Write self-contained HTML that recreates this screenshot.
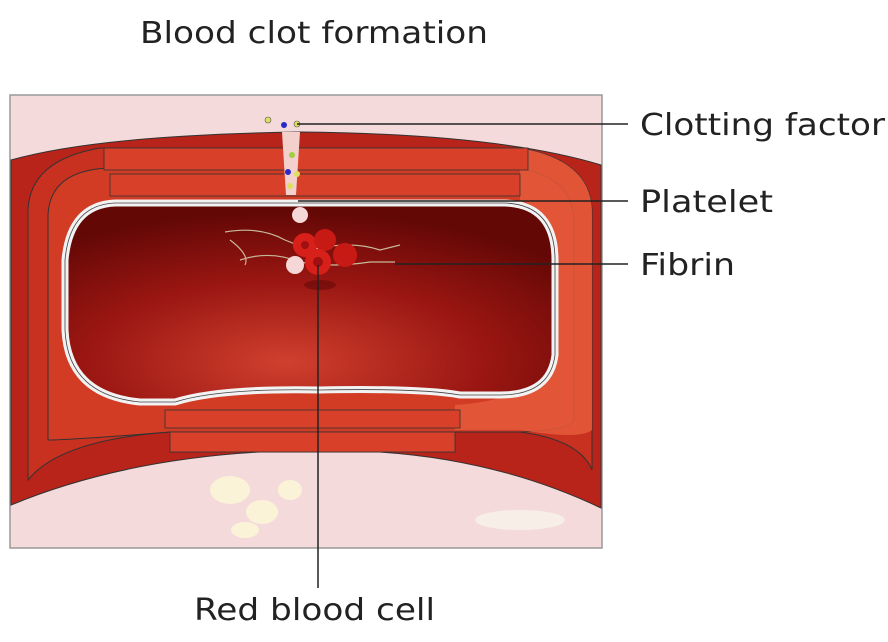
<!DOCTYPE html>
<html><head><style>
body{margin:0;background:#fff;width:888px;height:638px;overflow:hidden;font-family:"DejaVu Sans","Liberation Sans",sans-serif}
</style></head><body>
<svg width="888" height="638" viewBox="0 0 888 638" xmlns="http://www.w3.org/2000/svg">
<defs>
<radialGradient id="lum" cx="0.45" cy="0.8" r="0.75">
<stop offset="0" stop-color="#d0402e"/><stop offset="0.55" stop-color="#9a1612"/><stop offset="1" stop-color="#640806"/>
</radialGradient>
</defs>
<text x="140" y="43" font-size="30" fill="#222" font-family="DejaVu Sans, sans-serif" textLength="348" lengthAdjust="spacingAndGlyphs">Blood clot formation</text>
<rect x="10" y="95" width="592" height="453" fill="#f4dada" stroke="#999" stroke-width="1.5"/>
<path d="M11 160 Q100 135 300 132 Q500 134 601 165 L601 508 Q500 460 380 452 L260 452 Q120 460 11 505 Z" fill="#b8231a" stroke="#333" stroke-width="1"/>
<path d="M28 480 L28 210 Q30 160 100 148 L520 148 Q590 160 592 210 L592 470 Q580 440 520 432 L170 432 Q60 440 28 480 Z" fill="#c8301f" stroke="#333" stroke-width="1"/>
<path d="M48 440 L48 215 Q50 170 110 168 L515 168 Q572 175 574 220 L574 420 Q570 430 520 432 L170 432 Q70 440 48 440 Z" fill="#d23b24" stroke="#333" stroke-width="1"/>
<path d="M520 148 Q590 160 592 210 L592 430 Q580 440 520 430 L455 430 L455 405 Q540 400 553 350 L553 250 Q550 210 520 200 Z" fill="#e55a3a" opacity="0.85"/>
<rect x="104" y="148" width="424" height="22" fill="#d8402a" stroke="#333" stroke-width="0.8"/>
<rect x="110" y="174" width="410" height="22" fill="#d8402a" stroke="#333" stroke-width="0.8"/>
<rect x="165" y="410" width="295" height="18" fill="#d8402a" stroke="#333" stroke-width="0.8"/>
<rect x="170" y="432" width="285" height="20" fill="#d8402a" stroke="#333" stroke-width="0.8"/>
<path d="M115 203 L505 203 Q555 205 555 260 L555 355 Q550 395 500 395 L460 395 Q420 388 320 390 Q220 388 175 402 L140 402 Q68 395 65 330 L65 260 Q70 205 115 203 Z" fill="url(#lum)" stroke="#f2f2f2" stroke-width="7"/>
<path d="M115 203 L505 203 Q555 205 555 260 L555 355 Q550 395 500 395 L460 395 Q420 388 320 390 Q220 388 175 402 L140 402 Q68 395 65 330 L65 260 Q70 205 115 203 Z" fill="none" stroke="#444" stroke-width="0.8"/>
<ellipse cx="230" cy="490" rx="20" ry="14" fill="#fbf3d8"/>
<ellipse cx="262" cy="512" rx="16" ry="12" fill="#fbf3d8"/>
<ellipse cx="290" cy="490" rx="12" ry="10" fill="#fbf3d8"/>
<ellipse cx="245" cy="530" rx="14" ry="8" fill="#fbf3d8"/>
<ellipse cx="520" cy="520" rx="45" ry="10" fill="#f7eee8"/>
<path d="M282 132 L300 132 L296 195 L286 195 Z" fill="#f3d0cc"/>
<g stroke="#c8b89a" stroke-width="1.2" fill="none">
<path d="M225 232 Q260 226 285 240 L310 250 Q350 240 380 250 L400 245"/>
<path d="M240 260 Q270 250 300 262 Q330 268 370 262 L395 262"/>
<path d="M230 240 Q250 255 245 265"/>
</g>
<circle cx="300" cy="215" r="8" fill="#f5d7d7"/>
<circle cx="295" cy="265" r="9" fill="#f5d7d7"/>
<circle cx="305" cy="245" r="12" fill="#d8201a"/>
<circle cx="325" cy="240" r="11" fill="#c81a15"/>
<circle cx="345" cy="255" r="12" fill="#c81a15"/>
<circle cx="318" cy="262" r="13" fill="#d8201a"/>
<circle cx="318" cy="262" r="5" fill="#a01010"/>
<circle cx="305" cy="245" r="4" fill="#a01010"/>
<ellipse cx="320" cy="285" rx="16" ry="5" fill="#5a0606" opacity="0.5"/>
<circle cx="268" cy="120" r="3" fill="#dede60" stroke="#555" stroke-width="0.6"/>
<circle cx="284" cy="125" r="3" fill="#2a2ac8"/>
<circle cx="297" cy="124" r="3" fill="#dede60" stroke="#555" stroke-width="0.6"/>
<circle cx="292" cy="155" r="3" fill="#9ed040"/>
<circle cx="288" cy="172" r="3" fill="#2a2ac8"/>
<circle cx="297" cy="174" r="3" fill="#dede60"/>
<circle cx="290" cy="186" r="3" fill="#dede60"/>
<g stroke="#222" stroke-width="1.5">
<line x1="297" y1="124" x2="628" y2="124"/>
<line x1="298" y1="201" x2="628" y2="201"/>
<line x1="395" y1="264" x2="628" y2="264"/>
<line x1="318" y1="265" x2="318" y2="588"/>
</g>
<g font-size="30" fill="#222" font-family="DejaVu Sans, sans-serif" lengthAdjust="spacingAndGlyphs">
<text x="640" y="135" textLength="245" lengthAdjust="spacingAndGlyphs">Clotting factor</text>
<text x="640" y="212" textLength="133" lengthAdjust="spacingAndGlyphs">Platelet</text>
<text x="640" y="275" textLength="95" lengthAdjust="spacingAndGlyphs">Fibrin</text>
<text x="194" y="620" textLength="241" lengthAdjust="spacingAndGlyphs">Red blood cell</text>
</g>
</svg>
</body></html>
